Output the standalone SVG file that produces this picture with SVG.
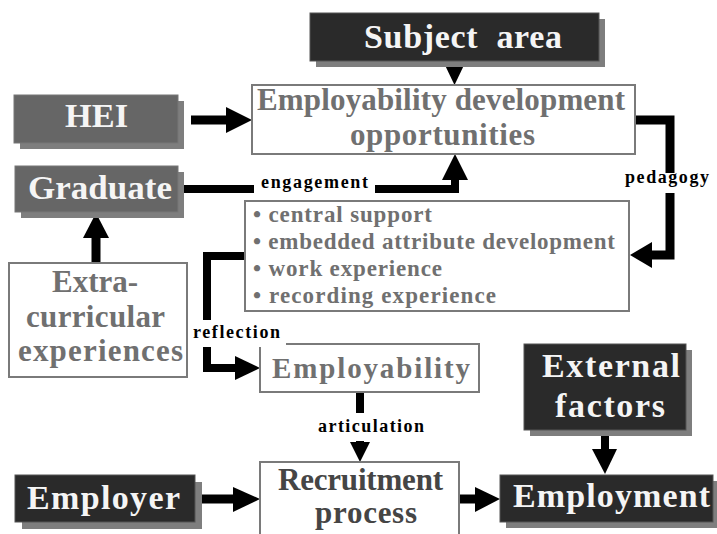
<svg xmlns="http://www.w3.org/2000/svg" width="717" height="534" viewBox="0 0 717 534">
<style>
text{font-family:"Liberation Serif","Times New Roman",serif;font-weight:bold}
.shadow{fill:#7e7e7e}
.gbox{fill:#666666;stroke:#777;stroke-width:1}
.dbox{fill:#2a2a2a;stroke:#555;stroke-width:1}
.wbox{fill:#ffffff;stroke:#7a7a7a;stroke-width:2}
.wt{fill:#f5f5f5}
.gt{fill:#707070}
.rt{fill:#454545}
.big{font-size:34px}
.mid{font-size:31px}
.emp{font-size:29px}
.bul{font-size:23px}
.lab{font-size:18px;fill:#000}
.shaft{fill:none;stroke:#000;stroke-width:9;stroke-linejoin:miter}
.thin{stroke-width:8}
.head{fill:#000}
.lbg{fill:#fff}
</style>
<rect width="717" height="534" fill="#fff"/>

<g id="connectors">
<path class="shaft" d="M191,120 H227"/>
<polygon class="head" points="226,107 252,120 226,133"/>
<polygon class="head" points="443,61 466,61 454.5,85"/>
<path class="shaft thin" d="M178,189 H455 V178"/>
<polygon class="head" points="442,180 468,180 455,154"/>
<path class="shaft" d="M635,120 H670 V255 H651"/>
<polygon class="head" points="652,242 630,255 652,268"/>
<path class="shaft" d="M96,263 V236"/>
<polygon class="head" points="83,238 109,238 96,213"/>
<path class="shaft thin" d="M245,256 H207 V368 H236"/>
<polygon class="head" points="235,356 260,368 235,380"/>
<path class="shaft thin" d="M360,392 V443"/>
<polygon class="head" points="350,442 370,442 360,462"/>
<path class="shaft" d="M195,499 H234"/>
<polygon class="head" points="233,487 260,499 233,512"/>
<path class="shaft" d="M459,499 H476"/>
<polygon class="head" points="475,487 500,499 475,512"/>
<path class="shaft thin" d="M605,430 V450"/>
<polygon class="head" points="592,449 617,449 605,474"/>
</g>

<g id="subject-area">
<rect class="shadow" x="316" y="19" width="289" height="48"/>
<rect class="dbox" x="310" y="13" width="289" height="48"/>
<text class="big wt" x="364" y="48" textLength="198" lengthAdjust="spacing">Subject&#160; area</text>
</g>

<g id="hei">
<rect class="shadow" x="20" y="101" width="164" height="48"/>
<rect class="gbox" x="14" y="95" width="164" height="48"/>
<text class="big wt" x="65" y="127" textLength="63" lengthAdjust="spacingAndGlyphs">HEI</text>
</g>

<g id="graduate">
<rect class="shadow" x="21" y="172" width="163" height="46"/>
<rect class="gbox" x="15" y="166" width="163" height="46"/>
<text class="big wt" x="28" y="199" textLength="144" lengthAdjust="spacingAndGlyphs">Graduate</text>
</g>

<g id="employability-development">
<rect class="wbox" x="252" y="85" width="383" height="69"/>
<text class="mid gt" x="257" y="110" textLength="368" lengthAdjust="spacing">Employability development</text>
<text class="mid gt" x="350" y="145" textLength="185" lengthAdjust="spacing">opportunities</text>
</g>

<g id="opportunity-list">
<rect class="wbox" x="245" y="201" width="384" height="110"/>
<text class="bul gt" x="253" y="222" textLength="179" lengthAdjust="spacing">• central support</text>
<text class="bul gt" x="253" y="249" textLength="362" lengthAdjust="spacing">• embedded attribute development</text>
<text class="bul gt" x="253" y="276" textLength="189" lengthAdjust="spacing">• work experience</text>
<text class="bul gt" x="253" y="303" textLength="243" lengthAdjust="spacing">• recording experience</text>
</g>

<g id="extra-curricular">
<rect class="wbox" x="9" y="263" width="178" height="114"/>
<text class="mid gt" x="52" y="292" textLength="86" lengthAdjust="spacing">Extra-</text>
<text class="mid gt" x="26" y="327" textLength="139" lengthAdjust="spacing">curricular</text>
<text class="mid gt" x="18" y="361" textLength="165" lengthAdjust="spacing">experiences</text>
</g>

<g id="employability">
<rect class="wbox" x="260" y="344" width="219" height="48"/>
<text class="emp gt" x="272" y="378" textLength="198" lengthAdjust="spacing">Employability</text>
</g>

<g id="external-factors">
<rect class="shadow" x="530" y="350" width="162" height="86"/>
<rect class="dbox" x="524" y="344" width="162" height="86"/>
<text class="big wt" x="542" y="377" textLength="138" lengthAdjust="spacing">External</text>
<text class="big wt" x="555" y="417" textLength="110" lengthAdjust="spacing">factors</text>
</g>

<g id="employer">
<rect class="shadow" x="22" y="482" width="180" height="47"/>
<rect class="dbox" x="15" y="475" width="180" height="47"/>
<text class="big wt" x="27" y="509" textLength="153" lengthAdjust="spacing">Employer</text>
</g>

<g id="recruitment-process">
<rect class="wbox" x="260" y="462" width="199" height="80"/>
<text class="mid rt" x="278" y="490" textLength="165" lengthAdjust="spacing">Recruitment</text>
<text class="mid rt" x="315" y="523" textLength="102" lengthAdjust="spacing">process</text>
</g>

<g id="employment">
<rect class="shadow" x="506" y="481" width="211" height="47"/>
<rect class="dbox" x="500" y="475" width="213" height="47"/>
<text class="big wt" x="513" y="507" textLength="197" lengthAdjust="spacing">Employment</text>
</g>

<g id="connector-labels">
<rect class="lbg" x="254" y="176" width="121" height="20"/>
<text class="lab" x="261" y="188" textLength="107" lengthAdjust="spacing">engagement</text>
<rect class="lbg" x="622" y="173" width="90" height="20"/>
<text class="lab" x="625" y="183" textLength="84" lengthAdjust="spacing">pedagogy</text>
<rect class="lbg" x="190" y="320" width="96" height="27"/>
<text class="lab" x="193" y="338" textLength="87" lengthAdjust="spacing">reflection</text>
<rect class="lbg" x="316" y="413" width="110" height="28"/>
<text class="lab" x="318" y="432" textLength="106" lengthAdjust="spacing">articulation</text>
</g>
</svg>
